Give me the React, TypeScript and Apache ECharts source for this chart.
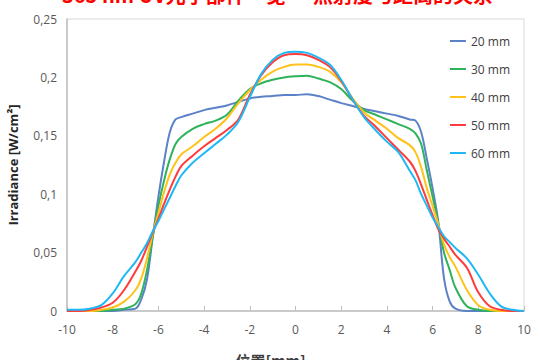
import React, { useEffect, useRef } from "react";
import * as echarts from "echarts";

const xs = [-10, -9.5, -9, -8.5, -8, -7.5, -7, -6.75, -6.5, -6.25, -6, -5.75, -5.5, -5.25, -5, -4.5, -4, -3.5, -3, -2.5, -2, -1.5, -1, -0.5, 0,
  0.5, 1, 1.5, 2, 2.5, 3, 3.5, 4, 4.5, 5, 5.25, 5.5, 5.75, 6, 6.25, 6.5, 6.75, 7, 7.5, 8, 8.5, 9, 9.5, 10];

const seriesNames = ["20 mm", "30 mm", "40 mm", "50 mm", "60 mm"];
const seriesColors = ["#5b82c6", "#2fb35a", "#ffc21a", "#ff3b3b", "#1fb8f5"];

const mm20 = [0, 0, 0, 0, 0, 0.001, 0.002, 0.01, 0.027, 0.063, 0.098, 0.128, 0.153, 0.164, 0.166, 0.169, 0.172, 0.174, 0.176, 0.179, 0.182, 0.1835, 0.184, 0.185, 0.185,
  0.1855, 0.184, 0.181, 0.178, 0.1755, 0.173, 0.171, 0.169, 0.167, 0.164, 0.163, 0.153, 0.13, 0.105, 0.076, 0.028, 0.008, 0.002, 0, 0, 0, 0, 0, 0];
const mm30 = [0, 0, 0, 0, 0.001, 0.002, 0.006, 0.015, 0.035, 0.063, 0.09, 0.112, 0.13, 0.143, 0.149, 0.156, 0.16, 0.163, 0.168, 0.18, 0.19, 0.195, 0.198, 0.2, 0.201,
  0.2015, 0.199, 0.196, 0.19, 0.18, 0.172, 0.168, 0.164, 0.16, 0.156, 0.152, 0.143, 0.12, 0.098, 0.075, 0.05, 0.035, 0.02, 0.004, 0.001, 0, 0, 0, 0];
const mm40 = [0, 0, 0, 0.001, 0.003, 0.008, 0.018, 0.028, 0.045, 0.066, 0.084, 0.102, 0.117, 0.127, 0.134, 0.141, 0.149, 0.156, 0.165, 0.178, 0.189, 0.198, 0.205, 0.209, 0.211,
  0.211, 0.209, 0.205, 0.196, 0.182, 0.17, 0.163, 0.156, 0.148, 0.142, 0.136, 0.123, 0.105, 0.09, 0.074, 0.057, 0.046, 0.038, 0.018, 0.005, 0.001, 0, 0, 0];
const mm50 = [0, 0, 0.001, 0.003, 0.007, 0.018, 0.034, 0.043, 0.055, 0.067, 0.079, 0.092, 0.104, 0.115, 0.124, 0.133, 0.141, 0.148, 0.155, 0.164, 0.185, 0.202, 0.213, 0.219, 0.22,
  0.219, 0.215, 0.209, 0.197, 0.181, 0.167, 0.158, 0.148, 0.138, 0.128, 0.12, 0.108, 0.095, 0.082, 0.07, 0.062, 0.055, 0.048, 0.037, 0.016, 0.004, 0.001, 0, 0];
const mm60 = [0.001, 0.001, 0.002, 0.005, 0.015, 0.03, 0.042, 0.05, 0.058, 0.068, 0.077, 0.087, 0.097, 0.107, 0.116, 0.127, 0.135, 0.143, 0.151, 0.162, 0.183, 0.203, 0.215, 0.221, 0.222,
  0.221, 0.217, 0.211, 0.198, 0.181, 0.166, 0.155, 0.145, 0.136, 0.12, 0.112, 0.1, 0.09, 0.08, 0.072, 0.064, 0.059, 0.054, 0.045, 0.031, 0.015, 0.004, 0.001, 0];

const allSeries = [mm20, mm30, mm40, mm50, mm60];

const titleText = "365 nm UV光学部件一览 — 照射度与距离的关系";
const yAxisTitle = "Irradiance [W/cm²]";
const xAxisTitle = "位置[mm]";

export default function App() {
  const ref = useRef<HTMLDivElement>(null);
  useEffect(() => {
    if (!ref.current) return;
    const chart = echarts.init(ref.current, null, { renderer: "svg" });
    chart.setOption({
      animation: false,
      backgroundColor: "#ffffff",
      textStyle: { fontFamily: "'Open Sans', 'Noto Sans CJK SC', sans-serif" },
      graphic: [
        {
          type: "text",
          left: 62,
          top: -16,
          style: {
            text: titleText,
            fill: "#ff0000",
            font: "bold 20px 'Noto Sans CJK SC', sans-serif",
          },
        },
      ],
      grid: {
        left: 67,
        right: 16,
        top: 19,
        bottom: 49,
        outerBoundsMode: "none",
        containLabel: false,
        show: true,
        borderColor: "#d9d9d9",
        borderWidth: 1,
      },
      legend: {
        orient: "vertical",
        right: 25,
        top: 30,
        itemWidth: 16,
        itemHeight: 2,
        itemGap: 16,
        icon: "rect",
        textStyle: { color: "#404040", fontSize: 12, fontFamily: "'Open Sans', sans-serif" },
        data: seriesNames,
      },
      xAxis: {
        type: "value",
        min: -10,
        max: 10,
        interval: 2,
        name: xAxisTitle,
        nameLocation: "middle",
        nameGap: 42,
        nameTextStyle: { color: "#404040", fontSize: 15, fontWeight: "bold", fontFamily: "'Noto Sans CJK SC', sans-serif", padding: [0, 50, 0, 0] },
        axisLine: { onZero: false, lineStyle: { color: "#bfbfbf", width: 1.5 } },
        axisTick: { inside: true, length: 5, lineStyle: { color: "#bfbfbf" } },
        axisLabel: { color: "#595959", fontSize: 12, margin: 12 },
        splitLine: { show: false },
      },
      yAxis: {
        type: "value",
        min: 0,
        max: 0.25,
        interval: 0.05,
        name: yAxisTitle,
        nameLocation: "middle",
        nameGap: 48,
        nameTextStyle: { color: "#262626", fontSize: 13, fontWeight: "bold" },
        axisLine: { show: true, onZero: false, lineStyle: { color: "#bfbfbf", width: 1.5 } },
        axisTick: { show: false },
        axisLabel: {
          color: "#595959",
          fontSize: 12,
          margin: 10,
          formatter: (v: number) => String(Math.round(v * 100) / 100).replace(".", ","),
        },
        splitLine: { show: false },
      },
      series: seriesNames.map((name, i) => ({
        name,
        type: "line",
        smooth: 0.35,
        showSymbol: false,
        symbol: "none",
        data: xs.map((x, j) => [x, allSeries[i][j]]),
        lineStyle: { color: seriesColors[i], width: 2 },
        itemStyle: { color: seriesColors[i] },
      })),
    });
    return () => chart.dispose();
  }, []);
  return (
    <div
      ref={ref}
      style={{ position: "fixed", left: 0, top: 0, width: 540, height: 360 }}
    />
  );
}
